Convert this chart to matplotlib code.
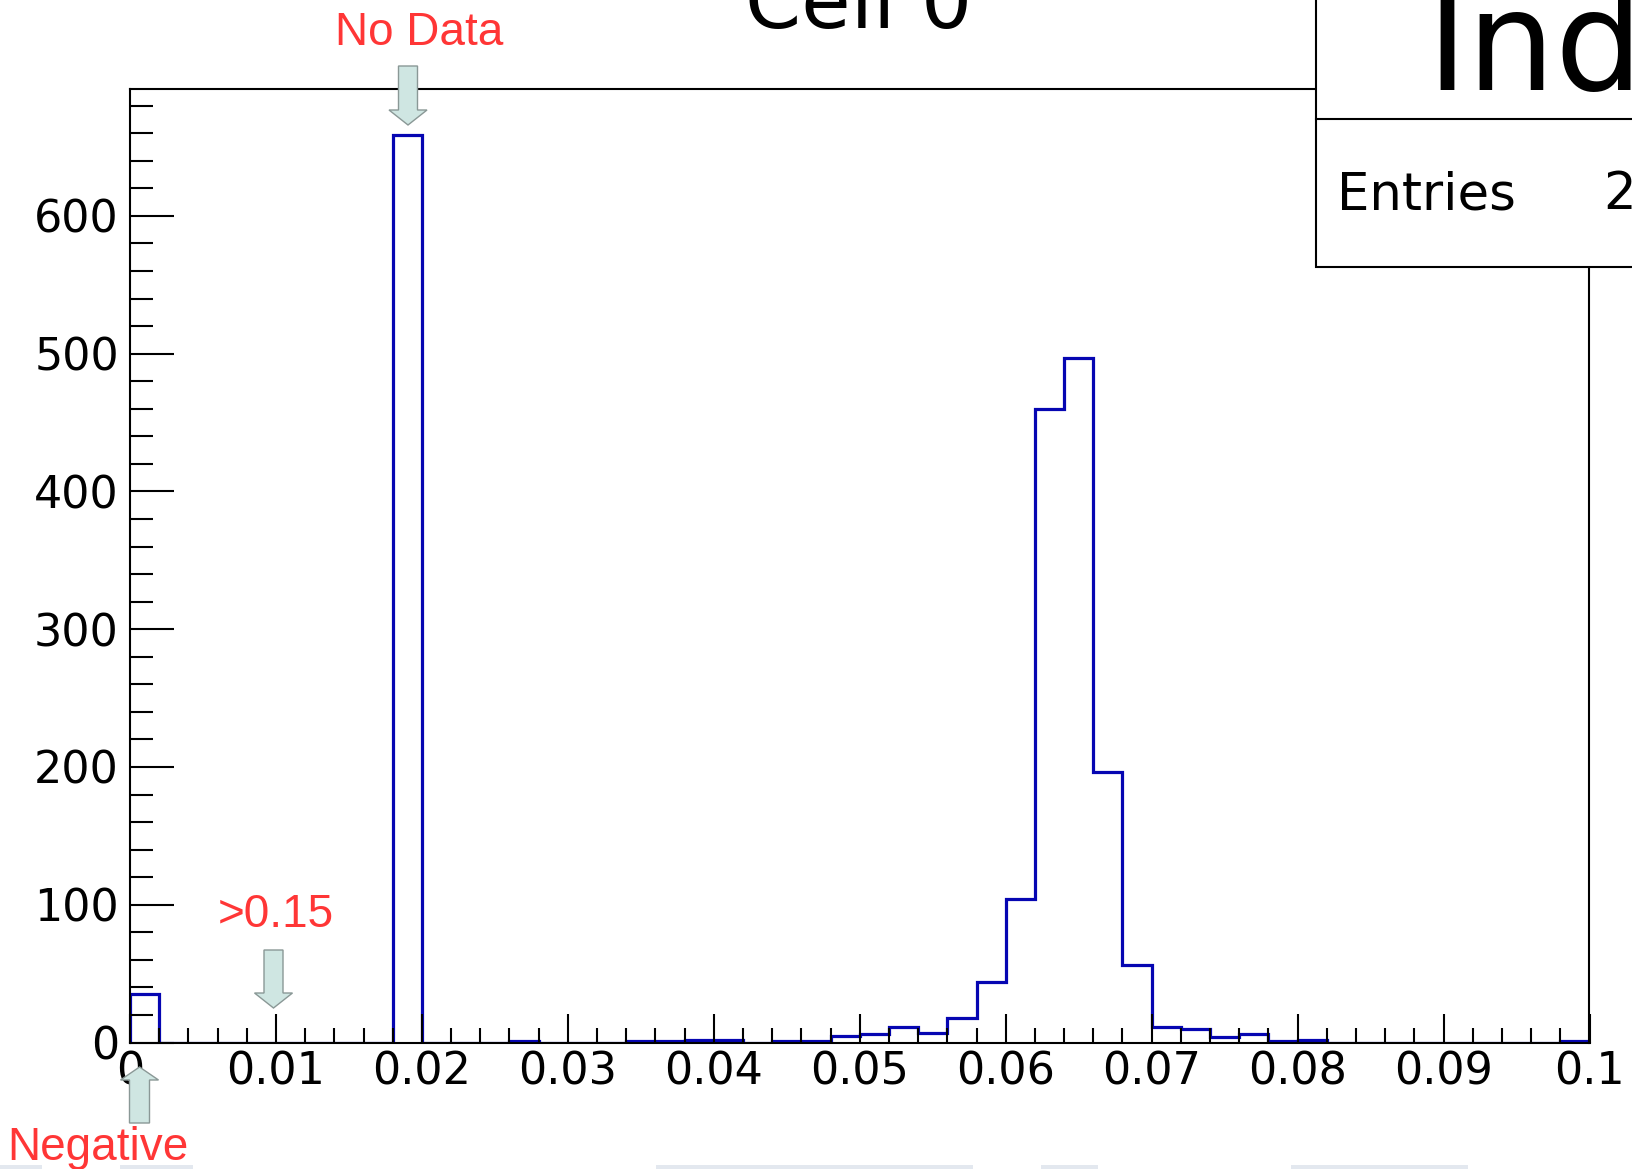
import numpy as np
import matplotlib
matplotlib.use("Agg")
import matplotlib.pyplot as plt
from matplotlib.patches import Rectangle, Polygon

plt.rcParams['font.family'] = ['DejaVu Sans']

# ---------------- data ----------------
bin_low = 0.0
bin_high = 0.1
n_bins = 50
counts = [35, 0, 0, 0, 0, 0, 0, 0, 0, 659,
          0, 0, 0, 1, 0, 0, 0, 1, 1, 2,
          2, 0, 1, 1, 5, 6, 11, 7, 18, 44,
          104, 460, 497, 196, 56, 11, 10, 4, 6, 1,
          2, 0, 0, 0, 0, 0, 0, 0, 0, 1]
x_major = [0, 0.01, 0.02, 0.03, 0.04, 0.05, 0.06, 0.07, 0.08, 0.09, 0.1]
x_labels = ["0", "0.01", "0.02", "0.03", "0.04", "0.05", "0.06", "0.07", "0.08", "0.09", "0.1"]
y_major = [0, 100, 200, 300, 400, 500, 600]
y_labels = ["0", "100", "200", "300", "400", "500", "600"]
title = "Cell 0"
stats_name = "Index"
entries_label = "Entries"
entries_value = "2145"
notes = ["No Data", ">0.15", "Negative"]

# ---------------- figure ----------------
W, H = 1632, 1169
fig = plt.figure(figsize=(W / 100, H / 100), dpi=100)
fig.patch.set_facecolor("white")

left, right, top, bottom = 130, 1589.5, 88.5, 1042.5
ax = fig.add_axes([left / W, 1 - bottom / H, (right - left) / W, (bottom - top) / H])

edges = np.linspace(bin_low, bin_high, n_bins + 1)
ax.stairs(counts, edges, baseline=0, color="#0606b2", linewidth=2.3, zorder=1)

ax.set_xlim(bin_low, bin_high)
ax.set_ylim(0, 692.5)

ax.set_xticks(x_major)
ax.set_xticklabels(x_labels)
ax.set_xticks(np.arange(0, 0.1001, 0.002), minor=True)
ax.set_yticks(y_major)
ax.set_yticklabels(y_labels)
ax.set_yticks(np.arange(0, 690, 20), minor=True)

ax.tick_params(axis="x", which="major", direction="in", length=21, width=1.5,
               labelsize=32, pad=6, top=False)
ax.tick_params(axis="x", which="minor", direction="in", length=10.8, width=1.5, top=False)
ax.tick_params(axis="y", which="major", direction="in", length=32, width=1.5,
               labelsize=32, pad=8, right=False)
ax.tick_params(axis="y", which="minor", direction="in", length=16.5, width=1.5, right=False)
for s in ax.spines.values():
    s.set_linewidth(1.5)

# ---------------- overlay (decorations in pixel coords) ----------------
ov = fig.add_axes([0, 0, 1, 1], zorder=5)
ov.set_xlim(0, W)
ov.set_ylim(H, 0)
ov.axis("off")
ov.patch.set_alpha(0)

# title (cut by the top edge, as in the reference)
ov.text(859, 28, title, fontsize=58, ha="center", va="baseline", color="black")

# stats box
ov.add_patch(Rectangle((1316, -20), 400, 287, facecolor="white", edgecolor="black",
                       linewidth=1.5, zorder=2))
ov.plot([1316, 1700], [118.5, 118.5], color="black", lw=1.5, zorder=3)
ov.text(1426, 90, stats_name, fontsize=100, ha="left", va="baseline", zorder=4)
ov.text(1337, 210, entries_label, fontsize=37, ha="left", va="baseline", zorder=4)
ov.text(1603, 210, entries_value, fontsize=37, ha="left", va="baseline", zorder=4)

# block arrows
def block_arrow(cx, tail, base, tip, shaft=19, head=38):
    hs, hh = shaft / 2, head / 2
    pts = [(cx - hs, tail), (cx + hs, tail), (cx + hs, base), (cx + hh, base),
           (cx, tip), (cx - hh, base), (cx - hs, base)]
    ov.add_patch(Polygon(pts, closed=True, facecolor="#cfe6e2", edgecolor="#8a9896",
                         linewidth=1.0, zorder=6))

block_arrow(408, 66, 110, 125)
block_arrow(273.5, 950, 993, 1008)
block_arrow(139.5, 1123, 1080, 1067, shaft=20)

red = "#ff3636"
ov.text(419, 45, notes[0], fontsize=33, family=["Liberation Sans"], color=red,
        ha="center", va="baseline", zorder=7)
ov.text(276, 927, notes[1], fontsize=33, family=["Liberation Sans"], color=red,
        ha="center", va="baseline", zorder=7)
ov.text(7, 1160, notes[2], fontsize=33, family=["Liberation Sans"], color=red,
        ha="left", va="baseline", zorder=7)

# faint strips at bottom edge
for x0, x1 in [(0, 42), (120, 193), (656, 973), (1041, 1098), (1291, 1468)]:
    ov.add_patch(Rectangle((x0, 1165), x1 - x0, 6, facecolor="#e3e8ef",
                           edgecolor="none", zorder=1))

fig.savefig("out.png", dpi=100, facecolor="white")
